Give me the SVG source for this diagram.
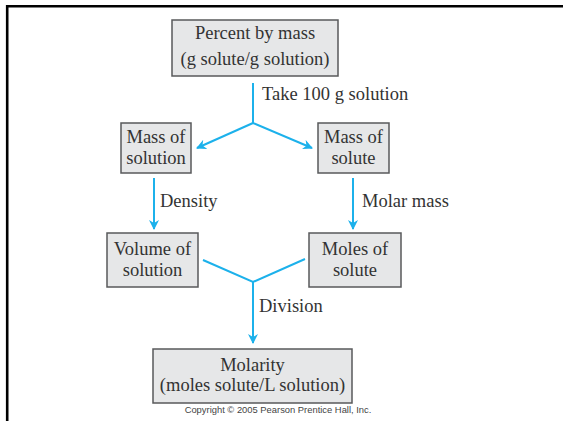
<svg xmlns="http://www.w3.org/2000/svg" width="563" height="421" viewBox="0 0 563 421">
<style>
.box{fill:#e6e7e8;stroke:#58595b;stroke-width:1.5}
.t{font-family:"Liberation Serif","Times New Roman",serif;font-size:18.5px;fill:#333;text-anchor:middle}
.lbl{font-family:"Liberation Serif","Times New Roman",serif;font-size:18.5px;fill:#333}
.c{fill:none;stroke:#1cb1eb;stroke-width:2}
.copy{font-family:"Liberation Sans",Arial,sans-serif;font-size:9.4px;fill:#444;text-anchor:middle}
</style>
<defs>
<marker id="ah" viewBox="0 0 10 10" refX="9" refY="5" markerWidth="5" markerHeight="5" orient="auto" markerUnits="strokeWidth">
<path d="M0,0 L10,5 L0,10 L3,5 Z" fill="#1cb1eb"/>
</marker>
</defs>
<rect x="0" y="0" width="563" height="421" fill="#fff"/>
<path d="M7.2,421 V6.2 H563" fill="none" stroke="#000" stroke-width="2.6"/>
<g id="percent">
<rect class="box" x="172" y="20" width="166" height="56"/>
<text class="t" x="255" y="39">Percent by mass</text>
<text class="t" x="255" y="65">(g solute/g solution)</text>
</g>
<g id="mass-solution">
<rect class="box" x="121" y="123" width="70" height="50"/>
<text class="t" x="156" y="143">Mass of</text>
<text class="t" x="156" y="164">solution</text>
</g>
<g id="mass-solute">
<rect class="box" x="318" y="123" width="71" height="50"/>
<text class="t" x="353.5" y="143">Mass of</text>
<text class="t" x="353.5" y="164">solute</text>
</g>
<g id="volume-solution">
<rect class="box" x="107" y="233" width="91" height="54"/>
<text class="t" x="152.5" y="255">Volume of</text>
<text class="t" x="152.5" y="276">solution</text>
</g>
<g id="moles-solute">
<rect class="box" x="309" y="233" width="92" height="54"/>
<text class="t" x="355" y="255">Moles of</text>
<text class="t" x="355" y="276">solute</text>
</g>
<g id="molarity">
<rect class="box" x="153" y="349" width="199" height="54"/>
<text class="t" x="252.5" y="371">Molarity</text>
<text class="t" x="252.5" y="391">(moles solute/L solution)</text>
</g>
<g id="connectors">
<path class="c" d="M253,83 V123"/>
<path class="c" d="M253,123 L197,148" marker-end="url(#ah)"/>
<path class="c" d="M253,123 L312,148" marker-end="url(#ah)"/>
<path class="c" d="M154,178 V229" marker-end="url(#ah)"/>
<path class="c" d="M353,178 V229" marker-end="url(#ah)"/>
<path class="c" d="M203,260 L253,282 L305,259"/>
<path class="c" d="M253,282 V343" marker-end="url(#ah)"/>
</g>
<g id="labels">
<text class="lbl" x="262" y="100">Take 100 g solution</text>
<text class="lbl" x="160" y="207">Density</text>
<text class="lbl" x="362" y="207">Molar mass</text>
<text class="lbl" x="259" y="312">Division</text>
</g>
<text class="copy" x="278" y="413">Copyright © 2005 Pearson Prentice Hall, Inc.</text>
</svg>
